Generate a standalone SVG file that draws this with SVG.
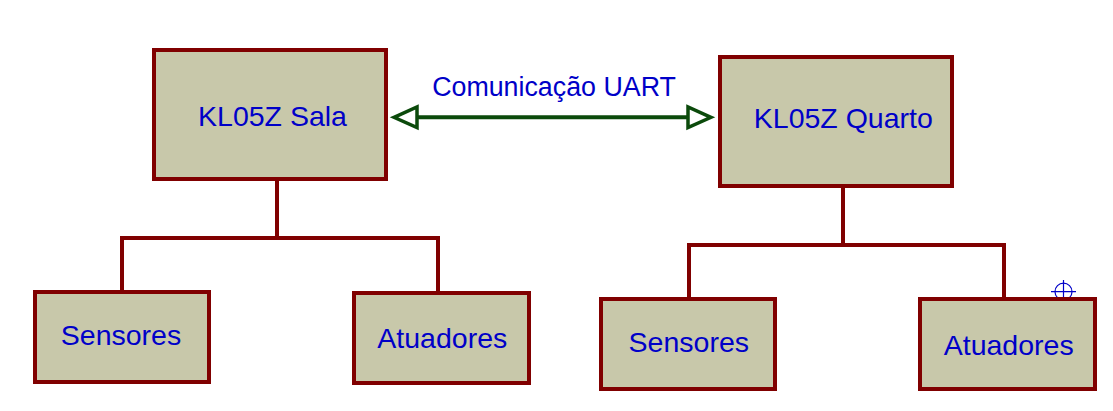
<svg xmlns="http://www.w3.org/2000/svg" width="1113" height="411" viewBox="0 0 1113 411">
  <style>
    .box { fill: #c8c8aa; stroke: #800000; stroke-width: 4; }
    .wire { fill: none; stroke: #800000; stroke-width: 4; stroke-linecap: square; }
    .lbl { font-family: "Liberation Sans", Arial, sans-serif; font-size: 28.5px; fill: #0000c8; text-anchor: middle; }
    .cap { font-family: "Liberation Sans", Arial, sans-serif; font-size: 26.8px; fill: #0000c8; text-anchor: middle; }
    .uart { fill: none; stroke: #0b4a0b; stroke-width: 4; }
    .head { fill: #ffffff; stroke: #0b4a0b; stroke-width: 3.5; stroke-linejoin: miter; }
    .mark { fill: none; stroke: #0000c8; stroke-width: 1.2; }
  </style>
  <rect width="1113" height="411" fill="#ffffff"/>

  <g id="connectors">
    <path class="wire" d="M277 180 V238 M122 238 H438 M122 238 V292 M438 238 V293"/>
    <path class="wire" d="M843 187 V245 M689 245 H1004 M689 245 V299 M1004 245 V299"/>
    <g id="uart-link">
      <line class="uart" x1="417" y1="117.3" x2="688" y2="117.3"/>
      <polygon class="head" points="394,117.3 417,107 417,127.6"/>
      <polygon class="head" points="711,117.3 688,107 688,127.6"/>
      <text class="cap" x="554" y="96">Comunicação UART</text>
    </g>
  </g>

  <g id="kl05z-sala">
    <rect class="box" x="154" y="50" width="232" height="129"/>
    <text class="lbl" x="272.5" y="126">KL05Z Sala</text>
  </g>
  <g id="sensores-sala">
    <rect class="box" x="35" y="292" width="174" height="90"/>
    <text class="lbl" x="121" y="345">Sensores</text>
  </g>
  <g id="atuadores-sala">
    <rect class="box" x="354" y="293" width="175" height="90"/>
    <text class="lbl" x="442.3" y="348.3">Atuadores</text>
  </g>

  <g id="kl05z-quarto">
    <rect class="box" x="720" y="57" width="232" height="129"/>
    <text class="lbl" x="843.3" y="128.3">KL05Z Quarto</text>
  </g>
  <g id="sensores-quarto">
    <rect class="box" x="601" y="299" width="174" height="90"/>
    <text class="lbl" x="688.8" y="351.7">Sensores</text>
  </g>
  <g id="atuadores-quarto">
    <g id="origin-mark">
      <circle class="mark" cx="1063.5" cy="291.7" r="8.5"/>
      <path class="mark" d="M1051 291.7 H1076 M1063.5 280 V298"/>
    </g>
    <rect class="box" x="920" y="299" width="175" height="90"/>
    <text class="lbl" x="1008.7" y="355">Atuadores</text>
  </g>
</svg>
